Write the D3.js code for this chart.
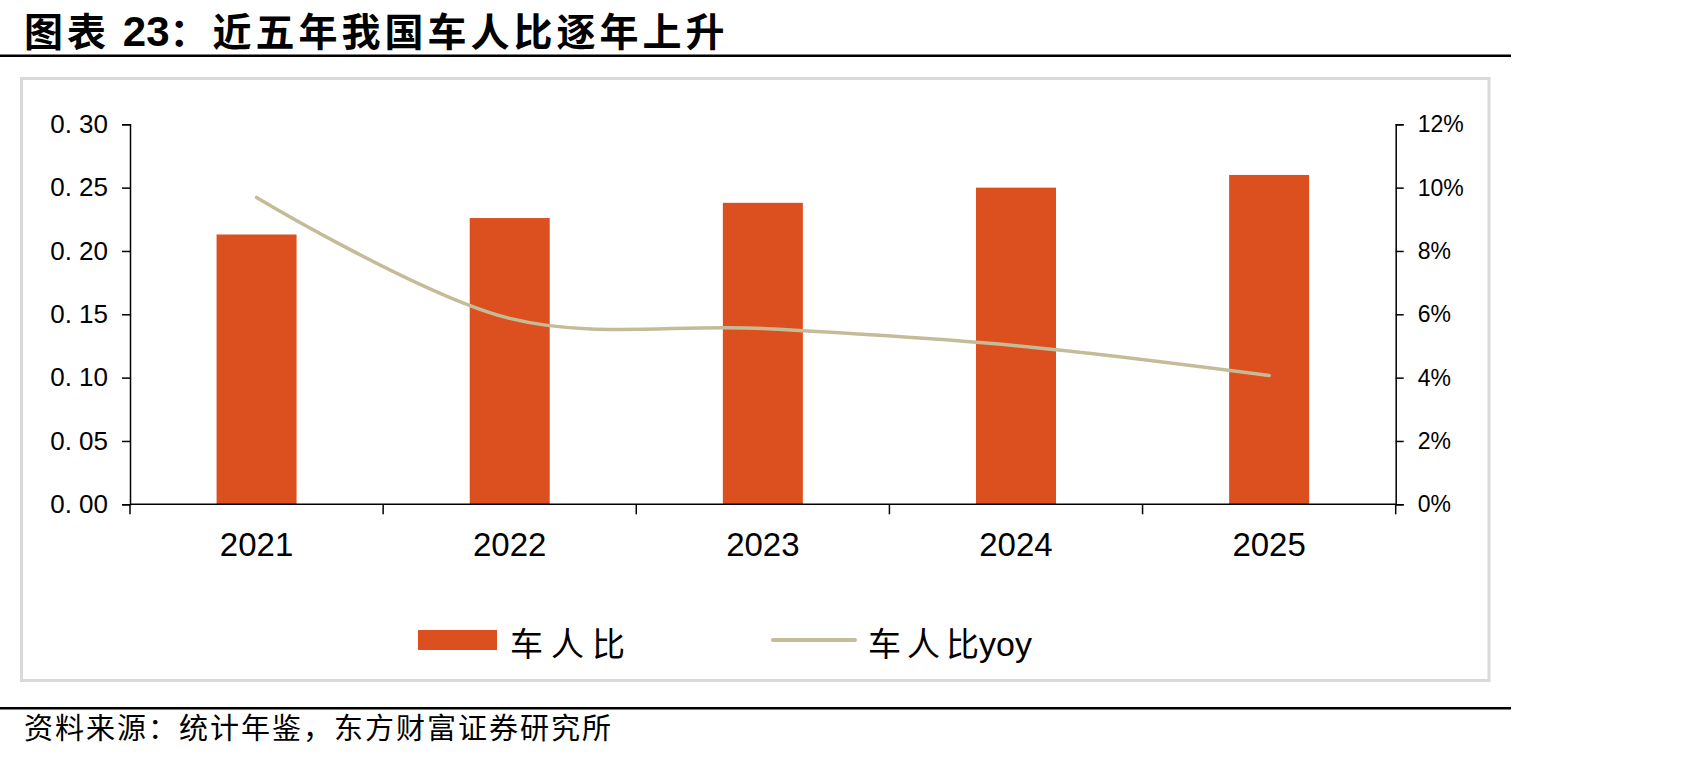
<!DOCTYPE html>
<html>
<head>
<meta charset="utf-8">
<script src="https://cdn.jsdelivr.net/npm/d3@7"></script>
<style>
  body { margin: 0; background: #fff; }
  svg { display: block; }
  .cjk { font-family: "Noto Sans CJK SC", sans-serif; }
  .num { font-family: "Liberation Sans", Arial, sans-serif; }
</style>
</head>
<body>
<div id="chart"></div>
<script>
// data
var years = ["2021", "2022", "2023", "2024", "2025"];
var carRatio = [0.213, 0.226, 0.238, 0.250, 0.260];   // 车人比
var carRatioYoy = [0.0969, 0.0587, 0.0555, 0.0501, 0.0407]; // 车人比yoy
var leftTicks = [0, 0.05, 0.10, 0.15, 0.20, 0.25, 0.30];
var rightTicks = [0, 0.02, 0.04, 0.06, 0.08, 0.10, 0.12];

var W = 1701, H = 761;
var barColor = "#dc4f1f", lineColor = "#c4bc98";

var svg = d3.select("#chart").append("svg")
  .attr("width", W).attr("height", H);
svg.append("rect").attr("width", W).attr("height", H).attr("fill", "#fff");

// title + rules
var title = svg.append("text").attr("class", "cjk")
  .attr("x", 24).attr("y", 46)
  .attr("font-size", 39).attr("font-weight", "bold");
title.append("tspan").attr("letter-spacing", 4).text("图表 ");
title.append("tspan").attr("class", "num").attr("font-size", 42).text("23");
title.append("tspan").attr("letter-spacing", 4).text("：近五年我国车人比逐年上升");
svg.append("line").attr("x1", 0).attr("x2", 1511).attr("y1", 55.7).attr("y2", 55.7)
  .attr("stroke", "#000").attr("stroke-width", 2.5);
svg.append("rect").attr("x", 21.5).attr("y", 78.5).attr("width", 1467.5).attr("height", 602)
  .attr("fill", "none").attr("stroke", "#d9d9d9").attr("stroke-width", 3);
svg.append("line").attr("x1", 0).attr("x2", 1511).attr("y1", 708.3).attr("y2", 708.3)
  .attr("stroke", "#000").attr("stroke-width", 2.5);
svg.append("text").attr("class", "cjk")
  .attr("x", 24).attr("y", 739).attr("font-size", 29).attr("letter-spacing", 2)
  .text("资料来源：统计年鉴，东方财富证券研究所");

// plot area
var x0 = 130, x1 = 1395.7, yTop = 124.3, yBot = 504.3;
var x = d3.scaleBand().domain(years).range([x0, x1]);
var yL = d3.scaleLinear().domain([0, 0.30]).range([yBot, yTop]);
var yR = d3.scaleLinear().domain([0, 0.12]).range([yBot, yTop]);
var bw = x.step() * 0.316;

// bars
svg.append("g").selectAll("rect").data(years).enter().append("rect")
  .attr("x", d => x(d) + x.bandwidth() / 2 - bw / 2)
  .attr("y", (d, i) => yL(carRatio[i]))
  .attr("width", bw)
  .attr("height", (d, i) => yBot - yL(carRatio[i]))
  .attr("fill", barColor);

// left axis
var gL = svg.append("g").attr("transform", "translate(" + x0 + ",0)")
  .call(d3.axisLeft(yL).tickValues(leftTicks).tickSize(8).tickPadding(14)
    .tickFormat(d => d3.format(".2f")(d).replace(".", ". ")));
gL.selectAll("text").attr("class", "num").attr("font-size", 26).attr("fill", "#000");

// right axis
var gR = svg.append("g").attr("transform", "translate(" + x1 + ",0)")
  .call(d3.axisRight(yR).tickValues(rightTicks).tickSize(8).tickPadding(14)
    .tickFormat(d3.format(".0%")));
gR.selectAll("text").attr("class", "num").attr("font-size", 23).attr("fill", "#000");

// bottom axis: ticks at category boundaries
var gB = svg.append("g").attr("transform", "translate(0," + yBot + ")");
gB.append("line").attr("x1", x0).attr("x2", x1).attr("stroke", "#000").attr("stroke-width", 1.5);
gB.selectAll(".bt").data(years.concat(["end"])).enter().append("line")
  .attr("x1", (d, i) => x0 + i * x.step()).attr("x2", (d, i) => x0 + i * x.step())
  .attr("y1", 0).attr("y2", 10).attr("stroke", "#000").attr("stroke-width", 1.5);
gB.selectAll(".bl").data(years).enter().append("text")
  .attr("class", "num")
  .attr("x", d => x(d) + x.bandwidth() / 2).attr("y", 52)
  .attr("text-anchor", "middle").attr("font-size", 33)
  .text(d => d);

[gL, gR].forEach(g => {
  g.select(".domain").attr("stroke", "#000").attr("stroke-width", 1.5);
  g.selectAll(".tick line").attr("stroke", "#000").attr("stroke-width", 1.5);
});

// yoy line
var line = d3.line()
  .x((d, i) => x(years[i]) + x.bandwidth() / 2)
  .y(d => yR(d))
  .curve(d3.curveCatmullRom.alpha(0.5));
svg.append("path").datum(carRatioYoy)
  .attr("d", line).attr("fill", "none")
  .attr("stroke", lineColor).attr("stroke-width", 3.5).attr("stroke-linecap", "round");

// legend
svg.append("rect").attr("x", 418).attr("y", 630).attr("width", 79).attr("height", 20).attr("fill", barColor);
svg.append("text").attr("class", "cjk").attr("x", 510).attr("y", 656)
  .attr("font-size", 33).attr("letter-spacing", 8).text("车人比");
svg.append("line").attr("x1", 773).attr("x2", 855).attr("y1", 640).attr("y2", 640)
  .attr("stroke", lineColor).attr("stroke-width", 4).attr("stroke-linecap", "round");
var leg2 = svg.append("text").attr("class", "cjk").attr("x", 868).attr("y", 656)
  .attr("font-size", 33);
leg2.append("tspan").attr("letter-spacing", 6).text("车人");
leg2.append("tspan").text("比");
leg2.append("tspan").attr("class", "num").attr("font-size", 34).text("yoy");
</script>
</body>
</html>
